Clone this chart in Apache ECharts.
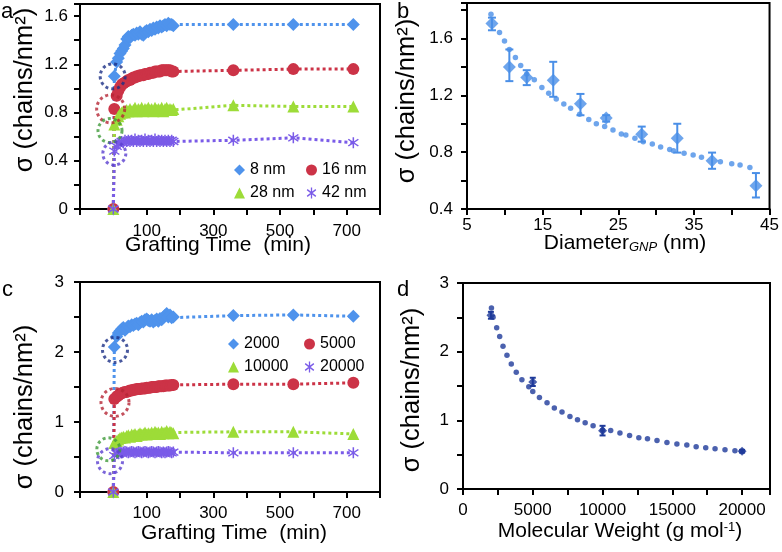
<!DOCTYPE html>
<html><head><meta charset="utf-8">
<script src="https://cdn.jsdelivr.net/npm/echarts@6/dist/echarts.min.js"></script>
<style>html,body{margin:0;padding:0;background:#fff}#chart{width:782px;height:552px}</style>
</head><body><div id="chart"></div>
<script>
// ---------- DATA ----------
var timeMin = [0,3,10,15,20,25,30,35,40,45,50,55,60,65,70,75,80,85,90,95,100,105,110,115,120,125,130,135,140,145,150,155,160,165,170,175,180,360,540,720];

var a8nm  = [0,1.10,1.22,1.25,1.29,1.31,1.33,1.36,1.41,1.43,1.42,1.44,1.45,1.44,1.46,1.45,1.47,1.45,1.44,1.47,1.48,1.47,1.49,1.48,1.50,1.49,1.51,1.50,1.52,1.51,1.52,1.53,1.52,1.54,1.53,1.53,1.52,1.53,1.53,1.53];
var a16nm = [0,0.83,0.94,0.98,1.01,1.03,1.04,1.05,1.06,1.07,1.07,1.08,1.09,1.09,1.10,1.10,1.11,1.11,1.11,1.12,1.12,1.12,1.13,1.13,1.13,1.14,1.14,1.14,1.14,1.15,1.15,1.15,1.15,1.15,1.15,1.14,1.14,1.15,1.16,1.16];
var a28nm = [0,0.70,0.74,0.77,0.79,0.80,0.81,0.80,0.82,0.81,0.83,0.81,0.82,0.84,0.81,0.83,0.82,0.84,0.81,0.83,0.82,0.84,0.82,0.83,0.81,0.84,0.82,0.83,0.82,0.84,0.81,0.83,0.84,0.82,0.83,0.82,0.83,0.86,0.85,0.85];
var a42nm = [0,0.48,0.52,0.54,0.55,0.56,0.55,0.57,0.56,0.57,0.56,0.57,0.56,0.58,0.56,0.57,0.56,0.57,0.56,0.58,0.56,0.57,0.56,0.57,0.56,0.58,0.56,0.57,0.56,0.57,0.56,0.57,0.56,0.57,0.56,0.57,0.56,0.57,0.59,0.55];

var c2000  = [0,2.07,2.22,2.27,2.30,2.33,2.35,2.31,2.34,2.37,2.36,2.39,2.38,2.40,2.41,2.39,2.42,2.44,2.43,2.46,2.47,2.45,2.44,2.46,2.43,2.45,2.47,2.44,2.48,2.46,2.49,2.52,2.55,2.50,2.53,2.49,2.50,2.52,2.53,2.51];
var c5000  = [0,1.33,1.36,1.38,1.40,1.41,1.42,1.43,1.43,1.44,1.45,1.45,1.46,1.46,1.47,1.47,1.47,1.48,1.48,1.48,1.49,1.49,1.49,1.50,1.50,1.50,1.50,1.51,1.51,1.51,1.51,1.52,1.52,1.52,1.52,1.53,1.53,1.54,1.54,1.56];
var c10000 = [0,0.70,0.73,0.75,0.77,0.78,0.79,0.78,0.80,0.81,0.79,0.82,0.81,0.83,0.80,0.82,0.84,0.82,0.83,0.85,0.82,0.84,0.83,0.85,0.83,0.86,0.84,0.85,0.83,0.86,0.84,0.85,0.87,0.84,0.86,0.85,0.84,0.86,0.86,0.83];
var c20000 = [0,0.52,0.55,0.56,0.57,0.56,0.57,0.58,0.57,0.56,0.57,0.58,0.57,0.56,0.57,0.58,0.57,0.56,0.57,0.58,0.57,0.56,0.57,0.58,0.57,0.56,0.57,0.58,0.57,0.56,0.57,0.56,0.57,0.58,0.57,0.56,0.57,0.56,0.56,0.56];

// highlighted first points (dotted circles)
var aCircleT = [-2,-8,-10,3];
var aCircleV = [1.10,0.83,0.65,0.46];
var cCircleT = [5,5,-15,-10];
var cCircleV = [2.03,1.28,0.61,0.44];

// panel b
var bDiam   = [8.3,10.6,12.9,16.4,20.0,23.4,28.1,32.8,37.4,43.2];
var bSigma  = [1.705,1.40,1.326,1.307,1.14,1.04,0.926,0.898,0.74,0.564];
var bErrLo  = [1.658,1.30,1.272,1.19,1.06,1.015,0.874,0.797,0.683,0.481];
var bErrHi  = [1.747,1.523,1.377,1.436,1.21,1.06,0.98,1.0,0.797,0.653];
var bFitD   = [8.17,9.3,9.96,10.6,11.4,12.1,12.9,13.9,14.9,15.8,16.8,17.8,18.7,19.9,21.1,22.1,23.2,24.3,25.4,26.0,27.2,28.3,29.5,30.6,31.8,32.3,33.7,34.9,36.0,38.5,40.0,41.1,42.4];
var bFitS   = [1.77,1.642,1.583,1.523,1.466,1.41,1.35,1.31,1.256,1.214,1.174,1.139,1.109,1.067,1.03,1.00,0.98,0.956,0.928,0.92,0.898,0.874,0.858,0.837,0.818,0.81,0.793,0.78,0.765,0.732,0.718,0.709,0.692];

// panel d
var dMw     = [2000,5000,10000,20000];
var dSigma  = [2.53,1.56,0.85,0.55];
var dErrLo  = [2.48,1.50,0.78,0.53];
var dErrHi  = [2.58,1.62,0.92,0.57];
var dFitM   = [2037,2153,2414,2628,2867,3150,3460,3816,4220,4716,5000,5477,6023,6545,7094,7663,8205,8754,9323,10000,10584,11246,11937,12600,13220,13903,14615,15328,16040,16708,17394,18063,18775,19487,20000];
var dFitS   = [2.636,2.50,2.35,2.22,2.08,1.946,1.82,1.70,1.59,1.49,1.42,1.334,1.256,1.18,1.12,1.057,1.009,0.965,0.92,0.86,0.853,0.815,0.78,0.747,0.732,0.708,0.679,0.655,0.64,0.616,0.601,0.587,0.572,0.558,0.55];

// tick labels
var timeTickLabels = [100,300,500,700];
var aYTickLabels = ['0','0.4','0.8','1.2','1.6'];
var bXTickLabels = [5,15,25,35,45];
var bYTickLabels = ['0.4','0.8','1.2','1.6'];
var cYTickLabels = ['0','1','2','3'];
var dXTickLabels = [0,5000,10000,15000,20000];
var dYTickLabels = ['0','1','2','3'];

// ---------- STYLE ----------
var FONT = 'Liberation Sans, Arial, sans-serif';
var C_BLUE = '#4f93ec', C_RED = '#cc3347', C_GREEN = '#9ddc38', C_PURPLE = '#7a5be8';
var C_B = '#4a8fe7', C_D = '#1e3a9a';
var circleColors = ['#1c2f86','#b52535','#3f9a3a','#5a3fd0'];
var aCircleSize = [25,28,24,23];
var cCircleSize = [25,28,23,25];

function zip(xs, ys){ return xs.map(function(x,i){ return [x, ys[i]]; }); }

function asteriskPath(){
  var c=5, L=5, w=0.6, angs=[90,38,142], s='path://';
  angs.forEach(function(a){
    var r=a*Math.PI/180, dx=Math.cos(r), dy=Math.sin(r), nx=-dy, ny=dx;
    var p=[[c+L*dx+w*nx,c+L*dy+w*ny],[c+L*dx-w*nx,c+L*dy-w*ny],[c-L*dx-w*nx,c-L*dy-w*ny],[c-L*dx+w*nx,c-L*dy+w*ny]];
    s+='M'+p[0][0].toFixed(3)+','+p[0][1].toFixed(3);
    for(var k=1;k<4;k++) s+='L'+p[k][0].toFixed(3)+','+p[k][1].toFixed(3);
    s+='Z';
  });
  return s;
}
var AST = asteriskPath();

function labelFmt(list){
  return function(v){
    for(var i=0;i<list.length;i++){ if(Math.abs(parseFloat(list[i])-v)<1e-6) return String(list[i]); }
    return '';
  };
}

function axisDef(grid, min, max, interval, labels, margin){
  return {gridIndex:grid, type:'value', min:min, max:max, interval:interval,
    axisLine:{onZero:false, lineStyle:{color:'#000', width:2}},
    axisTick:{show:true, length:6, lineStyle:{color:'#000', width:2}},
    splitLine:{show:false},
    axisLabel:{margin:margin, fontSize:17, color:'#000', fontFamily:FONT, formatter:labelFmt(labels), showMinLabel:true, showMaxLabel:true}};
}

function lineSeries(name, axis, vals, color, symbol, size){
  return {type:'line', name:name, xAxisIndex:axis, yAxisIndex:axis, data:zip(timeMin, vals),
    symbol:symbol, symbolSize:size, showAllSymbol:true,
    itemStyle:{color:color}, lineStyle:{color:color, width:3, type:[3,3]}, z:3};
}
function circleSeries(axis, ts, vs, sizes){
  return {type:'scatter', xAxisIndex:axis, yAxisIndex:axis, symbol:'circle', silent:true, z:6,
    data: ts.map(function(t,i){ return {value:[t, vs[i]], symbolSize:sizes[i], itemStyle:{borderColor:circleColors[i]}}; }),
    itemStyle:{color:'rgba(0,0,0,0)', borderWidth:3, borderType:[3,3]}};
}
function errSeries(axis, xs, lo, hi, color, cap){
  return {type:'custom', xAxisIndex:axis, yAxisIndex:axis, z:4, silent:true,
    data: xs.map(function(x,i){ return [x, lo[i], hi[i]]; }),
    encode:{x:0, y:[1,2]},
    renderItem:function(params, api){
      var x=api.value(0), p1=api.coord([x, api.value(2)]), p2=api.coord([x, api.value(1)]);
      var st={stroke:color, lineWidth:2};
      return {type:'group', children:[
        {type:'line', shape:{x1:p1[0],y1:p1[1],x2:p2[0],y2:p2[1]}, style:st},
        {type:'line', shape:{x1:p1[0]-cap,y1:p1[1],x2:p1[0]+cap,y2:p1[1]}, style:st},
        {type:'line', shape:{x1:p2[0]-cap,y1:p2[1],x2:p2[0]+cap,y2:p2[1]}, style:st}
      ]};
    }};
}

var gridBase = {show:true, borderColor:'#000', borderWidth:2, backgroundColor:'rgba(0,0,0,0)'};
function grid(l,t,w,h){ return Object.assign({left:l, top:t, width:w, height:h}, gridBase); }

var legendText = {fontSize:16, color:'#000', fontFamily:FONT, lineHeight:16};
function legendCol(left, top, items){
  return {orient:'vertical', left:left, top:top, itemGap:7, itemWidth:11, itemHeight:11,
    selectedMode:false, textStyle:legendText, padding:0, data:items};
}

function gText(x, y, text, size, rot, extra){
  var st = Object.assign({text:text, fontSize:size, fontFamily:FONT, fill:'#000', align:'center', verticalAlign:'middle'}, extra||{});
  return {type:'text', x:x, y:y, rotation:rot||0, silent:true, style:st};
}

var option = {
  animation:false,
  textStyle:{fontFamily:FONT},
  grid:[ grid(80,4,300,205), grid(467,3,303,206), grid(80,282,300,210), grid(463,283,307,206) ],
  xAxis:[
    axisDef(0,-100,800,100,timeTickLabels,14),
    axisDef(1,5,45,5,bXTickLabels,8),
    axisDef(2,-100,800,100,timeTickLabels,13),
    axisDef(3,0,22000,2500,dXTickLabels,13)
  ],
  yAxis:[
    axisDef(0,0,1.7,0.2,aYTickLabels,12),
    axisDef(1,0.4,1.85,0.2,bYTickLabels,14),
    axisDef(2,0,3,0.5,cYTickLabels,16),
    axisDef(3,0,3,0.5,dYTickLabels,14)
  ],
  legend:[
    legendCol(234,162,[{name:'8 nm',icon:'diamond'},{name:'28 nm',icon:'triangle'}]),
    legendCol(306,162,[{name:'16 nm',icon:'circle'},{name:'42 nm',icon:AST}]),
    legendCol(228,336,[{name:'2000',icon:'diamond'},{name:'10000',icon:'triangle'}]),
    legendCol(304,336,[{name:'5000',icon:'circle'},{name:'20000',icon:AST}])
  ],
  series:[
    lineSeries('8 nm',0,a8nm,C_BLUE,'diamond',13),
    lineSeries('16 nm',0,a16nm,C_RED,'circle',12),
    lineSeries('28 nm',0,a28nm,C_GREEN,'triangle',12),
    lineSeries('42 nm',0,a42nm,C_PURPLE,AST,11),
    circleSeries(0,aCircleT,aCircleV,aCircleSize),

    lineSeries('2000',2,c2000,C_BLUE,'diamond',13),
    lineSeries('5000',2,c5000,C_RED,'circle',12),
    lineSeries('10000',2,c10000,C_GREEN,'triangle',12),
    lineSeries('20000',2,c20000,C_PURPLE,AST,11),
    circleSeries(2,cCircleT,cCircleV,cCircleSize),

    {type:'scatter', xAxisIndex:1, yAxisIndex:1, data:zip(bFitD,bFitS), symbol:'circle', symbolSize:5.5, itemStyle:{color:C_B}, z:3, silent:true},
    errSeries(1,bDiam,bErrLo,bErrHi,C_B,4),
    {type:'scatter', xAxisIndex:1, yAxisIndex:1, data:zip(bDiam,bSigma), symbol:'diamond', symbolSize:13, itemStyle:{color:C_B}, z:5, silent:true},

    {type:'scatter', xAxisIndex:3, yAxisIndex:3, data:zip(dFitM,dFitS), symbol:'circle', symbolSize:5.5, itemStyle:{color:C_D}, z:3, silent:true},
    errSeries(3,dMw,dErrLo,dErrHi,C_D,3),
    {type:'scatter', xAxisIndex:3, yAxisIndex:3, data:zip(dMw,dSigma), symbol:'diamond', symbolSize:9, itemStyle:{color:C_D}, z:5, silent:true}
  ],
  graphic:[
    gText(1,12,'a',22,0,{align:'left'}),
    gText(397,12,'b',22,0,{align:'left'}),
    gText(2,290,'c',22,0,{align:'left'}),
    gText(397,290,'d',22,0,{align:'left'}),

    gText(25,90,'σ (chains/nm²)',25.5,Math.PI/2),
    gText(407,101,'σ (chains/nm²)',25.5,Math.PI/2),
    gText(25,407,'σ (chains/nm²)',25.5,Math.PI/2),
    gText(412,390,'σ (chains/nm²)',25.5,Math.PI/2),

    gText(218,245,'Grafting Time  (min)',21),
    gText(234,533,'Grafting Time  (min)',21),
    gText(625,243,'{n|Diameter}{s|GNP}{n| (nm)}',21,0,{rich:{n:{fontSize:21,fontFamily:FONT,fill:'#000'},s:{fontSize:13,fontStyle:'italic',fontFamily:FONT,fill:'#000',verticalAlign:'bottom'}}}),
    gText(620,531,'{n|Molecular Weight (g mol}{s|-1}{n|)}',21,0,{rich:{n:{fontSize:21,fontFamily:FONT,fill:'#000'},s:{fontSize:13,fontFamily:FONT,fill:'#000',verticalAlign:'top'}}})
  ]
};

var chart = echarts.init(document.getElementById('chart'), null, {renderer:'canvas'});
chart.setOption(option);
</script>
</body></html>
